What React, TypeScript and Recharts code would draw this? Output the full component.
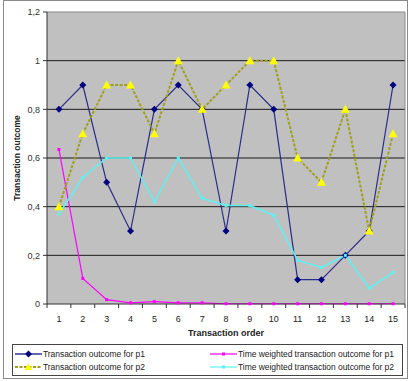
import {
  CartesianGrid,
  Line,
  LineChart,
  ReferenceLine,
  XAxis,
  YAxis,
} from "recharts";

const orders = [1, 2, 3, 4, 5, 6, 7, 8, 9, 10, 11, 12, 13, 14, 15];
const outcomeP1 = [0.8, 0.9, 0.5, 0.3, 0.8, 0.9, 0.8, 0.3, 0.9, 0.8, 0.1, 0.1, 0.2, 0.3, 0.9];
const outcomeP2 = [0.4, 0.7, 0.9, 0.9, 0.7, 1.0, 0.8, 0.9, 1.0, 1.0, 0.6, 0.5, 0.8, 0.3, 0.7];
const weightedP1 = [0.635, 0.105, 0.018, 0.005, 0.01, 0.005, 0.005, 0.001, 0.001, 0.001, 0.001, 0.001, 0.001, 0.001, 0.001];
const weightedP2 = [0.37, 0.52, 0.6, 0.6, 0.42, 0.6, 0.435, 0.405, 0.405, 0.365, 0.18, 0.15, 0.2, 0.065, 0.13];
const yTicks = [0, 0.2, 0.4, 0.6, 0.8, 1, 1.2];
const gridValues = [0.2, 0.4, 0.6, 0.8, 1];

const data = orders.map((o, i) => ({
  order: o,
  p1: outcomeP1[i],
  p2: outcomeP2[i],
  w1: weightedP1[i],
  w2: weightedP2[i],
}));

// Excel-style ticks: labels at categories, tick marks at category boundaries
const xTicks = [0.5, ...orders.flatMap((o) => [o, o + 0.5])];

const FONT = "Arial, 'Liberation Sans', sans-serif";
const NAVY = "#000080";
const NAVY_LINE = "#2b2b8a";
const OLIVE = "#a0a020";
const YELLOW = "#ffff00";
const MAGENTA = "#ff00ff";
const CYAN = "#5cf2f2";

const Diamond = (props: { cx?: number; cy?: number }) => {
  const { cx = 0, cy = 0 } = props;
  return <polygon points={`${cx},${cy - 3.5} ${cx + 3.5},${cy} ${cx},${cy + 3.5} ${cx - 3.5},${cy}`} fill={NAVY} />;
};

const Triangle = (props: { cx?: number; cy?: number }) => {
  const { cx = 0, cy = 0 } = props;
  return <polygon points={`${cx},${cy - 4.5} ${cx + 4.5},${cy + 3.5} ${cx - 4.5},${cy + 3.5}`} fill={YELLOW} />;
};

const Square = (color: string) => (props: { cx?: number; cy?: number }) => {
  const { cx = 0, cy = 0 } = props;
  return <rect x={cx - 1.5} y={cy - 1.5} width={3} height={3} fill={color} />;
};

const XTick = (props: { x?: number; y?: number; payload?: { value: number } }) => {
  const { x = 0, y = 0, payload } = props;
  const v = payload ? payload.value : 0;
  if (Number.isInteger(v)) {
    return (
      <text x={x} y={y + 17.5} textAnchor="middle" fontSize={9} fontFamily={FONT} fill="#222">
        {v}
      </text>
    );
  }
  return <line x1={x} y1={y} x2={x} y2={y + 4} stroke="#333" />;
};

const YLabel = (props: { viewBox?: { x: number; y: number; width: number; height: number } }) => {
  const vb = props.viewBox || { x: 0, y: 0, width: 0, height: 0 };
  const cx = vb.x + 10;
  const cy = vb.y + vb.height / 2;
  return (
    <text x={cx} y={cy} transform={`rotate(-90, ${cx}, ${cy})`} textAnchor="middle" dominantBaseline="central"
      fontSize={8.5} fontWeight="bold" fontFamily={FONT} fill="#222">
      Transaction outcome
    </text>
  );
};

const XLabel = (props: { viewBox?: { x: number; y: number; width: number; height: number } }) => {
  const vb = props.viewBox || { x: 0, y: 0, width: 0, height: 0 };
  return (
    <text x={vb.x + vb.width / 2} y={vb.y + 32} textAnchor="middle" fontSize={9} fontWeight="bold" fontFamily={FONT} fill="#222">
      Transaction order
    </text>
  );
};

const legendItems = [
  { label: "Transaction outcome for p1", color: NAVY, marker: "diamond" },
  { label: "Time weighted transaction outcome for p1", color: MAGENTA, marker: "square" },
  { label: "Transaction outcome for p2", color: OLIVE, marker: "triangle" },
  { label: "Time weighted transaction outcome for p2", color: CYAN, marker: "square" },
];

function LegendSample({ color, marker }: { color: string; marker: string }) {
  return (
    <svg width={27} height={8} style={{ display: "block", flex: "none" }}>
      <line x1={0} y1={4} x2={27} y2={4} stroke={color} strokeWidth={marker === "triangle" ? 2 : 1.2}
        strokeDasharray={marker === "triangle" ? "3 1.5" : undefined} />
      {marker === "diamond" && <polygon points="13.5,0.5 17,4 13.5,7.5 10,4" fill={color} />}
      {marker === "triangle" && <polygon points="13.5,0.5 17.5,7 9.5,7" fill={YELLOW} />}
      {marker === "square" && <rect x={12} y={2.5} width={3} height={3} fill={color} />}
    </svg>
  );
}

export default function App() {
  return (
    <div style={{ position: "absolute", left: 0, top: 0, width: 408, height: 381, background: "#fff", fontFamily: FONT }}>
      <div style={{ position: "absolute", left: 3, top: 0, width: 403, height: 377, border: "1px solid #8a8a8a" }} />
      <LineChart
        width={408}
        height={381}
        data={data}
        margin={{ top: 12, right: 3, bottom: 41, left: 7 }}
        style={{ position: "absolute", left: 0, top: 0 }}
      >
        <CartesianGrid fill="#c0c0c0" horizontal={false} vertical={false} />
        {gridValues.map((v) => (
          <ReferenceLine key={v} y={v} stroke="#1a1a1a" strokeWidth={1} />
        ))}
        <ReferenceLine y={1.2} stroke="#8a8a8a" />
        <ReferenceLine x={15.5} stroke="#8a8a8a" />
        <XAxis
          dataKey="order"
          type="number"
          domain={[0.5, 15.5]}
          ticks={xTicks}
          interval={0}
          tickLine={false}
          tickSize={0}
          tickMargin={0}
          tick={<XTick />}
          axisLine={{ stroke: "#333" }}
          height={36}
          label={<XLabel />}
        />
        <YAxis
          domain={[0, 1.2]}
          ticks={yTicks}
          width={40}
          tickSize={4}
          tickMargin={3}
          axisLine={{ stroke: "#333" }}
          tickLine={{ stroke: "#333" }}
          tick={{ fill: "#333", fontSize: 9, fontFamily: FONT }}
          tickFormatter={(v: number) => String(Number(v.toFixed(1))).replace(".", ",")}
          label={<YLabel />}
        />
        <Line dataKey="p1" stroke={NAVY_LINE} strokeWidth={1.2} dot={<Diamond />} activeDot={false} isAnimationActive={false} />
        <Line dataKey="w1" stroke={MAGENTA} strokeWidth={1.2} dot={Square(MAGENTA)} activeDot={false} isAnimationActive={false} />
        <Line dataKey="w2" stroke={CYAN} strokeWidth={1.5} dot={Square(CYAN)} activeDot={false} isAnimationActive={false} />
        <Line dataKey="p2" stroke={OLIVE} strokeWidth={2} strokeDasharray="3 1.5" dot={<Triangle />} activeDot={false} isAnimationActive={false} />
      </LineChart>
      <div
        style={{
          position: "absolute",
          left: 12,
          top: 344,
          width: 389,
          height: 30,
          border: "1px solid #444",
          display: "grid",
          gridTemplateColumns: "195px 194px",
          alignContent: "center",
          rowGap: 3,
          fontSize: 8.5,
          letterSpacing: -0.05,
          color: "#222",
        }}
      >
        {legendItems.map((it) => (
          <div key={it.label} style={{ display: "flex", alignItems: "center", paddingLeft: 2, whiteSpace: "nowrap", lineHeight: "10px" }}>
            <LegendSample color={it.color} marker={it.marker} />
            <span style={{ marginLeft: 1 }}>{it.label}</span>
          </div>
        ))}
      </div>
    </div>
  );
}
